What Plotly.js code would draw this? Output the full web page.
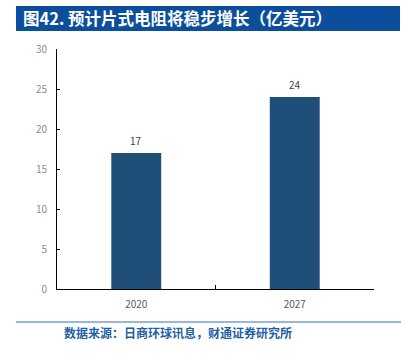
<!DOCTYPE html>
<html><head><meta charset="utf-8">
<script src="https://cdn.plot.ly/plotly-3.0.1.min.js"></script>
<style>html,body{margin:0;padding:0;background:#fff}#c{width:420px;height:363px}</style>
</head><body><div id="c"></div>
<script>
const categories = ["2020", "2027"];
const values = [17, 24];
const titleText = "图42. 预计片式电阻将稳步增长（亿美元）";
const sourceText = "数据来源：日商环球讯息，财通证券研究所";

const L = 57, R = 46, T = 49, B = 74, W = 420, H = 363;
const pw = W - L - R, ph = H - T - B;
const px = x => (x - L) / pw;
const py = y => (H - B - y) / ph;

const font = "'Noto Sans CJK SC', 'Noto Sans', sans-serif";
const trace = {
  type: "bar", x: categories, y: values,
  marker: {color: "#1f4e79"},
  hoverinfo: "none"
};
const labelAnns = categories.map((c, i) => ({
  x: i, y: values[i], xref: "x", yref: "y", text: String(values[i]), showarrow: false,
  yanchor: "middle", yshift: 13, font: {size: 10, color: "#404040", family: font}
}));
const layout = {
  width: W, height: H,
  margin: {l: L, r: R, t: T, b: B},
  paper_bgcolor: "#fff", plot_bgcolor: "#fff",
  showlegend: false, bargap: 0.685,
  font: {family: font},
  xaxis: {type: "category", categoryarray: categories, showline: true, linecolor: "#000", linewidth: 1,
    ticks: "inside", ticklen: 4, tickcolor: "#000", tickson: "boundaries",
    ticklabelstandoff: 6, tickangle: 0,
    tickfont: {size: 10, color: "#595959"}, showgrid: false, zeroline: false, fixedrange: true},
  yaxis: {range: [0, 30], dtick: 5, showline: true, linecolor: "#000", linewidth: 1,
    ticks: "inside", ticklen: 3, tickcolor: "#000", ticklabelstandoff: 7,
    tickfont: {size: 10, color: "#8a8a8a"}, showgrid: false, zeroline: false, fixedrange: true},
  shapes: [
    {type: "rect", xref: "paper", yref: "paper", x0: px(16), x1: px(400), y0: py(31), y1: py(6),
     fillcolor: "#0b4f9c", line: {width: 0}, layer: "above"},
    {type: "line", xref: "paper", yref: "paper", x0: px(16), x1: px(401), y0: py(322), y1: py(322),
     line: {color: "#2e75b6", width: 1.2}}
  ],
  annotations: labelAnns.concat([
    {xref: "paper", yref: "paper", x: px(21), y: py(18.5), xanchor: "left", yanchor: "middle",
     text: "<b>" + titleText + "</b>", showarrow: false, font: {size: 16.5, color: "#fff", family: font}},
    {xref: "paper", yref: "paper", x: px(62), y: py(332), xanchor: "left", yanchor: "middle",
     text: "<b>" + sourceText + "</b>", showarrow: false, font: {size: 12, color: "#1f5fa8", family: font}}
  ])
};
Plotly.newPlot("c", [trace], layout, {staticPlot: true, displayModeBar: false});
</script></body></html>
